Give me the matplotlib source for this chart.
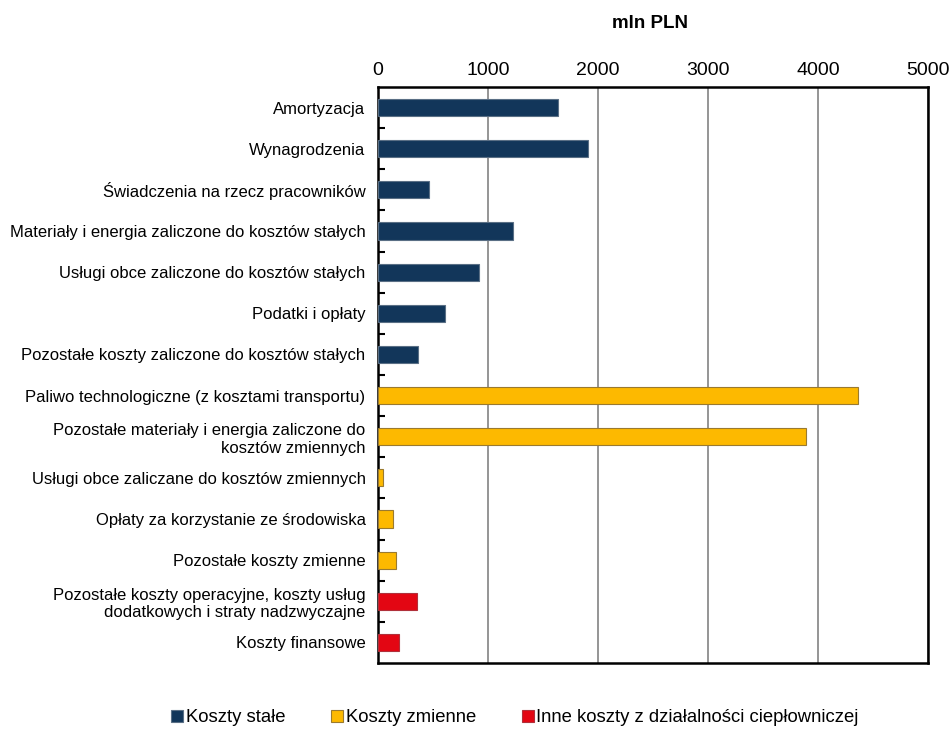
import numpy as np
import matplotlib.pyplot as plt
from matplotlib.patches import Patch

plt.rcParams['font.family'] = ['Liberation Sans', 'DejaVu Sans']

# Kategorie kosztów (od góry do dołu)
kategorie = [
    "Amortyzacja",
    "Wynagrodzenia",
    "Świadczenia na rzecz pracowników",
    "Materiały i energia zaliczone do kosztów stałych",
    "Usługi obce zaliczone do kosztów stałych",
    "Podatki i opłaty",
    "Pozostałe koszty zaliczone do kosztów stałych",
    "Paliwo technologiczne (z kosztami transportu)",
    "Pozostałe materiały i energia zaliczone do\nkosztów zmiennych",
    "Usługi obce zaliczane do kosztów zmiennych",
    "Opłaty za korzystanie ze środowiska",
    "Pozostałe koszty zmienne",
    "Pozostałe koszty operacyjne, koszty usług\ndodatkowych i straty nadzwyczajne",
    "Koszty finansowe",
]
wartosci = [1635, 1910, 460, 1230, 918, 607, 366,
            4360, 3893, 48, 133, 160, 356, 193]
grupy = [0, 0, 0, 0, 0, 0, 0, 1, 1, 1, 1, 1, 2, 2]

nazwy_grup = ["Koszty stałe", "Koszty zmienne",
              "Inne koszty z działalności ciepłowniczej"]
kolory = ["#12365a", "#fdb900", "#e30613"]
krawedzie = ["#5a6f85", "#9a7a30", "#b0303a"]

fig = plt.figure(figsize=(9.49, 7.31), dpi=100)
ax = fig.add_axes([378 / 949, 1 - 663 / 731, 550 / 949, 576 / 731])

y = np.arange(len(kategorie))
ax.barh(y, wartosci, height=0.42,
        color=[kolory[g] for g in grupy],
        edgecolor=[krawedzie[g] for g in grupy], linewidth=0.8, zorder=3)

ax.set_xlim(0, 5000)
ax.set_ylim(len(kategorie) - 0.5, -0.5)
ax.set_xticks(np.arange(0, 5001, 1000))
ax.xaxis.tick_top()
ax.tick_params(axis='x', length=0, labelsize=14, pad=6)
ax.grid(axis='x', color='#8c8c8c', linewidth=1.3, zorder=0)

ax.set_yticks(y)
ax.set_yticklabels(kategorie, fontsize=12)
ax.tick_params(axis='y', length=0, pad=9)
ax.set_yticks(np.arange(0.5, len(kategorie) - 1, 1), minor=True)
ax.tick_params(axis='y', which='minor', direction='in', length=5, width=1.5)

for s in ax.spines.values():
    s.set_linewidth(1.8)
    s.set_color('black')

fig.text(650 / 949, 1 - 24 / 731, "mln PLN", ha='center', va='center',
         fontsize=13.5, fontweight='bold')

uchwyty = [Patch(facecolor=kolory[i], edgecolor=krawedzie[i], linewidth=0.8)
           for i in range(3)]
fig.legend(uchwyty, nazwy_grup, loc='center', ncol=3,
           bbox_to_anchor=(515 / 949, 1 - 718 / 731), frameon=False,
           fontsize=13.3, handlelength=0.65, handleheight=0.65,
           handletextpad=0.12, columnspacing=2.5)

fig.savefig("out.png", dpi=100, facecolor='white')
